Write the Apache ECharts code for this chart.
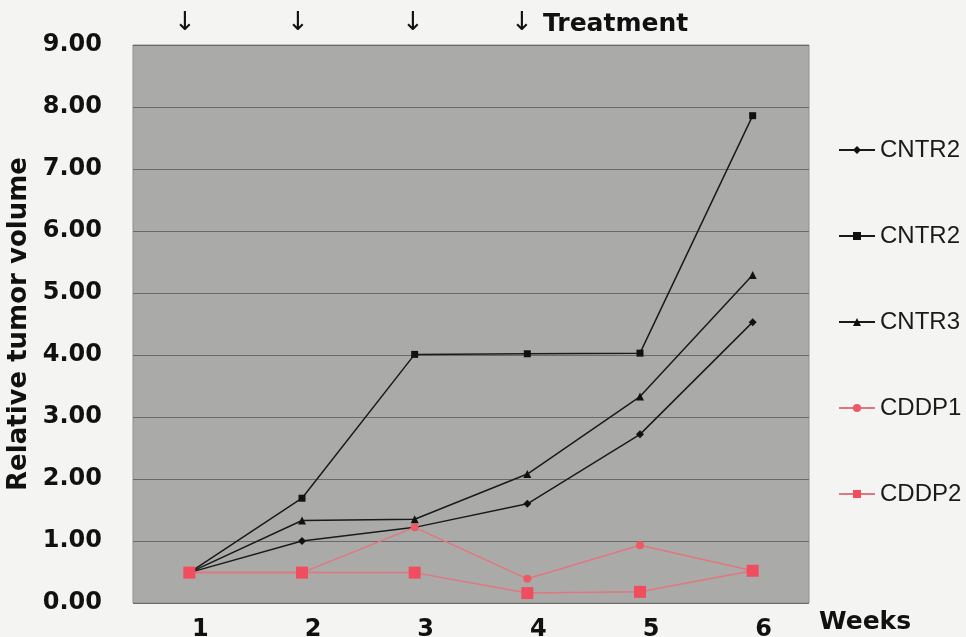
<!DOCTYPE html>
<html>
<head>
<meta charset="utf-8">
<script src="https://cdn.jsdelivr.net/npm/echarts@6/dist/echarts.min.js"></script>
<style>
  html, body { margin: 0; padding: 0; background: #f4f4f2; }
  #chart { width: 966px; height: 637px; }
</style>
</head>
<body>
<div id="chart"></div>
<script>
// weeks on x axis
var weeks = ['1', '2', '3', '4', '5', '6'];
var yTicks = [0, 1, 2, 3, 4, 5, 6, 7, 8, 9];

// values
var cntr2a = [0.49, 1.00, 1.22, 1.60, 2.72, 4.53];
var cntr2b = [0.49, 1.69, 4.01, 4.02, 4.03, 7.86];
var cntr3 = [0.49, 1.33, 1.35, 2.08, 3.33, 5.29];
var cddp1 = [0.49, 0.49, 1.22, 0.39, 0.93, 0.52];
var cddp2 = [0.49, 0.49, 0.49, 0.16, 0.18, 0.52];

var legendLabels = {
  'cntr2a': 'CNTR2',
  'cntr2b': 'CNTR2',
  'cntr3': 'CNTR3',
  'cddp1': 'CDDP1',
  'cddp2': 'CDDP2'
};

var boldFont = '"DejaVu Sans", Verdana, sans-serif';

function mkLine(name, data, color, lineColor, symbol, size) {
  return {
    name: name,
    type: 'line',
    data: data,
    symbol: symbol,
    symbolSize: size,
    showSymbol: true,
    lineStyle: { color: lineColor, width: 1.5 },
    itemStyle: { color: color },
    emphasis: { disabled: true },
    animation: false
  };
}

var myChart = echarts.init(document.getElementById('chart'));
var option = {
  backgroundColor: '#f4f4f2',
  grid: {
    left: 133, right: 157, top: 45, bottom: 34,
    outerBoundsMode: 'none',
    containLabel: false,
    show: true,
    backgroundColor: '#aaaba9',
    borderColor: '#8f908e',
    borderWidth: 1
  },
  legend: {
    orient: 'vertical',
    left: 833,
    top: 133,
    itemWidth: 36,
    itemHeight: 10,
    itemGap: 62,
    formatter: function (n) { return legendLabels[n]; },
    textStyle: {
      fontFamily: '"Liberation Sans", Arial, sans-serif',
      fontSize: 24,
      color: '#1a1a1a'
    },
    data: ['cntr2a', 'cntr2b', 'cntr3', 'cddp1', 'cddp2']
  },
  xAxis: {
    type: 'category',
    data: weeks,
    boundaryGap: true,
    name: 'Weeks',
    nameLocation: 'end',
    nameGap: 10,
    nameTextStyle: {
      fontFamily: boldFont, fontWeight: 'bold', fontSize: 25, color: '#111',
      verticalAlign: 'top', padding: [7, 0, 0, 0]
    },
    axisLine: { show: false },
    axisTick: { show: false },
    axisLabel: {
      margin: 15,
      padding: [0, 0, 0, 22],
      fontFamily: boldFont, fontWeight: 'bold', fontSize: 24, color: '#111'
    },
    splitLine: { show: false }
  },
  yAxis: {
    type: 'value',
    min: 0,
    max: 9,
    interval: 1,
    name: 'Relative tumor volume',
    nameLocation: 'middle',
    nameGap: 96,
    nameTextStyle: {
      fontFamily: boldFont, fontWeight: 'bold', fontSize: 26, color: '#111'
    },
    axisLine: { show: false },
    axisTick: { show: false },
    axisLabel: {
      margin: 31,
      fontFamily: boldFont, fontWeight: 'bold', fontSize: 24, color: '#111',
      formatter: function (v) { return v.toFixed(2); }
    },
    splitLine: { lineStyle: { color: '#6a6b69', width: 1.2 } }
  },
  graphic: [
    { type: 'text', left: 174, top: 10, style: { text: '↓', font: '26px "DejaVu Sans"', fill: '#111' } },
    { type: 'text', left: 287, top: 10, style: { text: '↓', font: '26px "DejaVu Sans"', fill: '#111' } },
    { type: 'text', left: 402, top: 10, style: { text: '↓', font: '26px "DejaVu Sans"', fill: '#111' } },
    { type: 'text', left: 511, top: 10, style: { text: '↓', font: '26px "DejaVu Sans"', fill: '#111' } },
    { type: 'text', left: 543, top: 12, style: { text: 'Treatment', font: 'bold 25px "DejaVu Sans"', fill: '#111' } }
  ],
  series: [
    mkLine('cntr2a', cntr2a, '#111', '#1a1a1a', 'diamond', 8),
    mkLine('cntr2b', cntr2b, '#111', '#1a1a1a', 'rect', 7),
    mkLine('cntr3', cntr3, '#111', '#1a1a1a', 'triangle', 8),
    mkLine('cddp1', cddp1, '#ec5a66', '#e2767e', 'circle', 8),
    mkLine('cddp2', cddp2, '#f04e5e', '#e2767e', 'rect', 12)
  ]
};
option && myChart.setOption(option);
</script>
</body>
</html>
